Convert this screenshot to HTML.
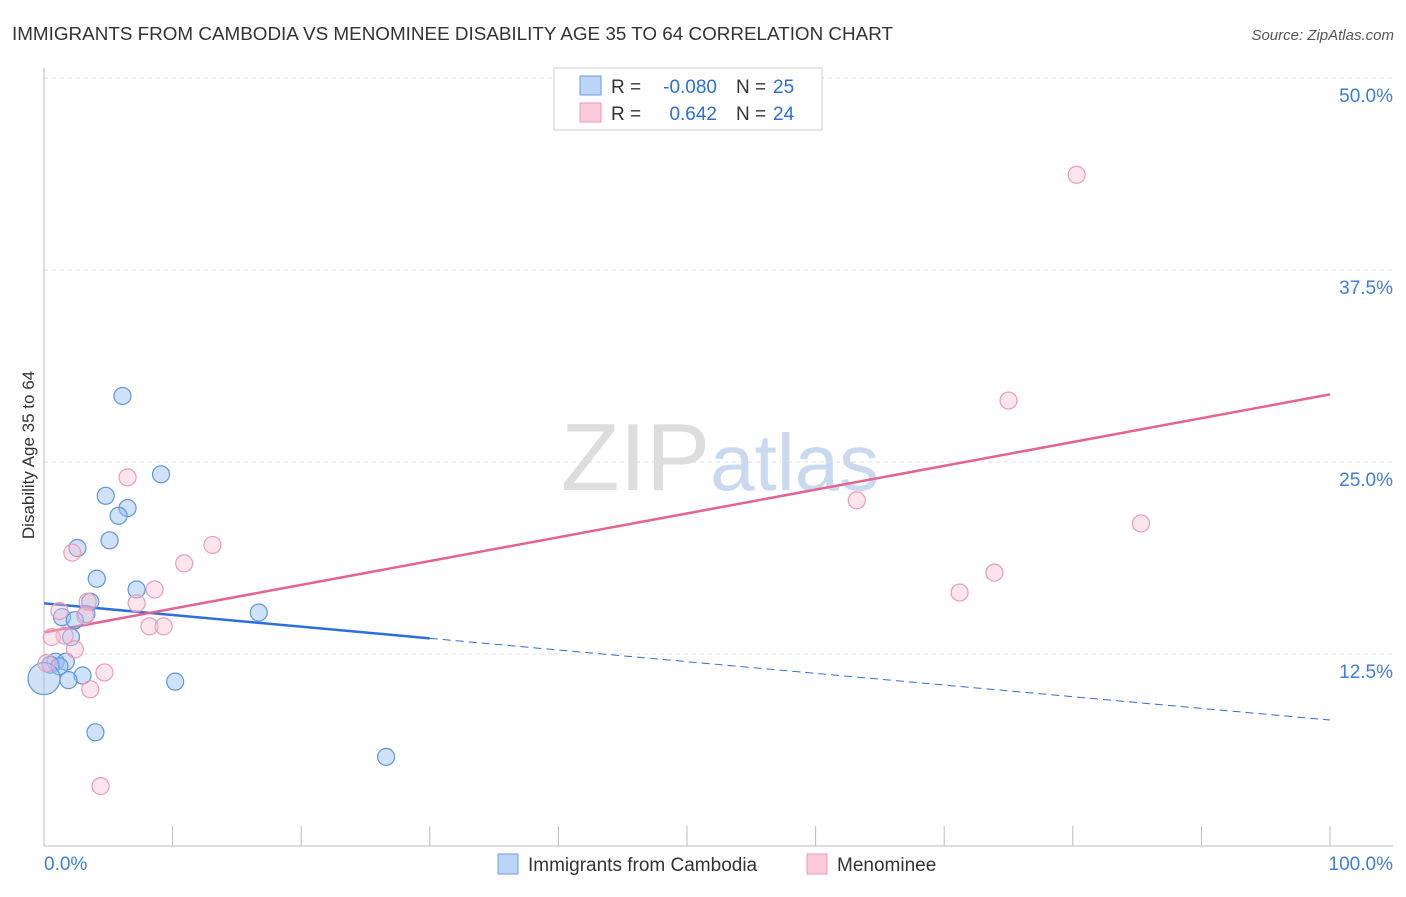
<!DOCTYPE html>
<html><head><meta charset="utf-8"><style>
body{margin:0;background:#fff;font-family:"Liberation Sans",sans-serif;}
svg text{font-family:"Liberation Sans",sans-serif;}
</style></head><body>
<svg id="chart" width="1406" height="892" xmlns="http://www.w3.org/2000/svg">
<text x="12" y="40" font-size="18" fill="#333" textLength="881" lengthAdjust="spacingAndGlyphs">IMMIGRANTS FROM CAMBODIA VS MENOMINEE DISABILITY AGE 35 TO 64 CORRELATION CHART</text>
<text x="1394" y="40" font-size="15" fill="#555" text-anchor="end" font-style="italic">Source: ZipAtlas.com</text>
<text x="720" y="490" font-size="96" fill="#ddd" text-anchor="middle" font-family="Liberation Serif">ZIP<tspan fill="#c9d9ef" font-family="Liberation Sans" font-size="80">atlas</tspan></text>
<text transform="translate(34,455) rotate(-90)" font-size="17" fill="#333" text-anchor="middle">Disability Age 35 to 64</text>
<g id="grid"></g><g id="axes"></g><g id="lines"></g><g id="pts"></g>
<g>
<rect x="554" y="68" width="268" height="62" fill="#fff" stroke="#ccc"/>
<rect x="580" y="76" width="21" height="19" fill="#bcd4f5" stroke="#6a9ee6"/>
<rect x="580" y="103" width="21" height="19" fill="#fbcbd9" stroke="#ee9ab5"/>
<text x="611" y="93" font-size="19" fill="#333">R =</text>
<text x="717" y="93" font-size="19" fill="#2a6fdb" text-anchor="end">-0.080</text>
<text x="736" y="93" font-size="19" fill="#333">N =</text>
<text x="773" y="93" font-size="19" fill="#2a6fdb">25</text>
<text x="611" y="120" font-size="19" fill="#333">R =</text>
<text x="717" y="120" font-size="19" fill="#2a6fdb" text-anchor="end">0.642</text>
<text x="736" y="120" font-size="19" fill="#333">N =</text>
<text x="773" y="120" font-size="19" fill="#2a6fdb">24</text>
</g>
<g>
<rect x="498" y="854" width="20" height="20" fill="#bcd4f5" stroke="#6a9ee6"/>
<text x="528" y="871" font-size="19" fill="#333">Immigrants from Cambodia</text>
<rect x="807" y="854" width="20" height="20" fill="#fbcbd9" stroke="#ee9ab5"/>
<text x="837" y="871" font-size="19" fill="#333">Menominee</text>
</g>
</svg>
<script>
const blueX=[6.1,9.1,4.8,6.5,5.8,5.1,2.6,4.1,7.2,3.6,3.3,1.4,2.4,16.7,2.1,0.9,1.7,0.5,1.2,3.0,1.9,10.2,4.0,26.6,0];
const blueY=[29.3,24.2,22.8,22.0,21.5,19.9,19.4,17.4,16.7,15.9,15.1,14.9,14.7,15.2,13.6,12.0,12.0,11.8,11.7,11.1,10.8,10.7,7.4,5.8,10.9];
const pinkX=[80.3,75.0,6.5,63.2,85.3,13.1,2.2,10.9,73.9,8.6,71.2,7.2,3.4,1.2,3.2,8.2,9.3,1.6,0.6,2.4,4.7,3.6,4.4,0.2];
const pinkY=[43.7,29.0,24.0,22.5,21.0,19.6,19.1,18.4,17.8,16.7,16.5,15.8,15.9,15.3,15.0,14.3,14.3,13.7,13.6,12.8,11.3,10.2,3.9,11.9];
const yTicks=[12.5,25.0,37.5,50.0];
const blueTrend=[15.8,8.2];
const pinkTrend=[13.9,29.4];
const NS="http://www.w3.org/2000/svg";
const X=v=>44+v*12.86, Y=v=>846-v*15.36;
function mk(t,a,p){const e=document.createElementNS(NS,t);for(const k in a)e.setAttribute(k,a[k]);document.getElementById(p).appendChild(e);return e;}
yTicks.forEach(t=>{
 const g=mk('line',{x1:44,x2:1393,y1:Y(t),y2:Y(t),stroke:'#ddd','stroke-dasharray':'4,4'},'grid');
 
 
 const l=mk('text',{x:1393,y:Y(t)+24,'font-size':19,fill:'#3b7ddd','text-anchor':'end'},'grid');
 l.textContent=t.toFixed(1)+'%';
 
 
});
mk('line',{x1:44,x2:44,y1:68,y2:846,stroke:'#bbb'},'axes');
mk('line',{x1:44,x2:1393,y1:846,y2:846,stroke:'#bbb'},'axes');
for(let i=0;i<=10;i++){const t=mk('line',{x1:X(i*10),x2:X(i*10),y1:826,y2:846,stroke:'#bbb'},'axes');
 
 }
const xl=mk('text',{x:44,y:870,'font-size':19,fill:'#3b7ddd'},'axes');xl.textContent='0.0%';


const xr=mk('text',{x:1393,y:870,'font-size':19,fill:'#3b7ddd','text-anchor':'end'},'axes');xr.textContent='100.0%';


const bAt=x=>blueTrend[0]+(blueTrend[1]-blueTrend[0])*x/100;
const b1=mk('line',{x1:X(0),y1:Y(bAt(0)),x2:X(30),y2:Y(bAt(30)),stroke:'#2a6fdb','stroke-width':2.5},'lines');


const b2=mk('line',{x1:X(30),y1:Y(bAt(30)),x2:X(100),y2:Y(bAt(100)),stroke:'#2a6fdb','stroke-width':1,'stroke-dasharray':'8,5'},'lines');


const p1=mk('line',{x1:X(0),y1:Y(pinkTrend[0]),x2:X(100),y2:Y(pinkTrend[1]),stroke:'#e5638f','stroke-width':2.5},'lines');


blueX.forEach((x,i)=>{const c=mk('circle',{cx:X(x),cy:Y(blueY[i]),r:i==24?16:8.5,fill:'rgba(150,190,240,0.45)',stroke:'#5b95e3','stroke-width':1.2},'pts');
 
 });
pinkX.forEach((x,i)=>{const c=mk('circle',{cx:X(x),cy:Y(pinkY[i]),r:8.5,fill:'rgba(250,190,210,0.4)',stroke:'#ef9ab6','stroke-width':1.2},'pts');
 
 });
</script>
</body></html>
